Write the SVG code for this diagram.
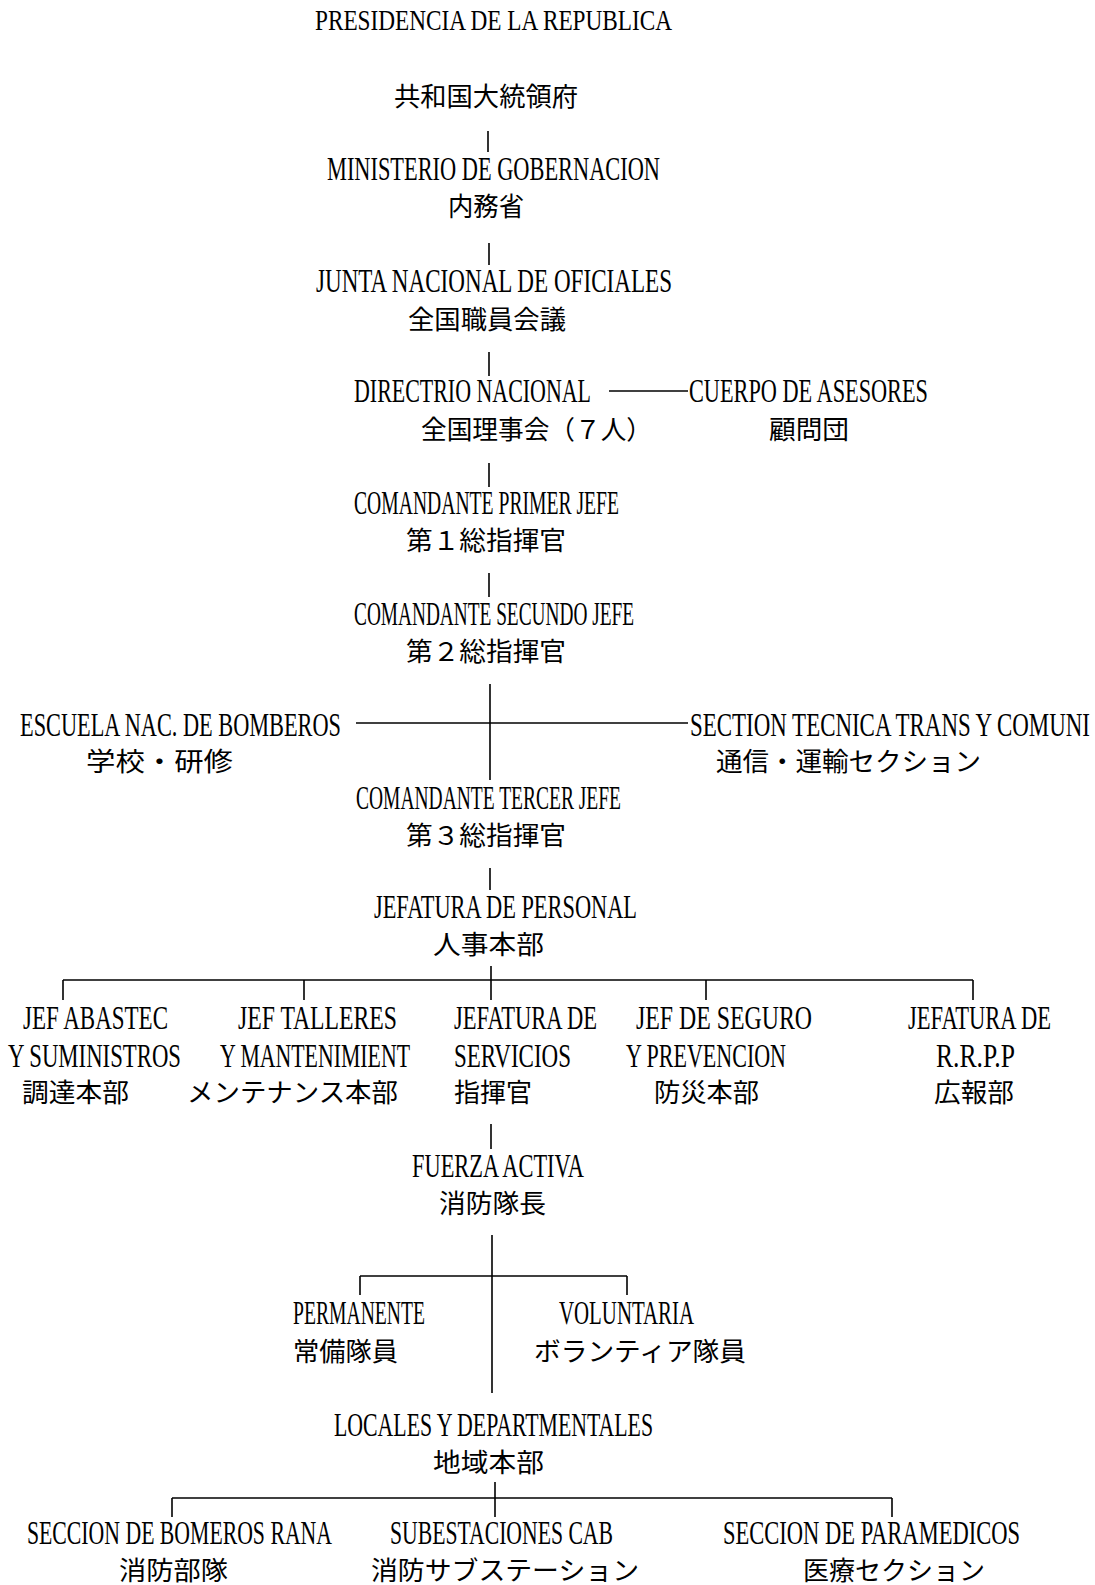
<svg xmlns="http://www.w3.org/2000/svg" width="1095" height="1585" viewBox="0 0 1095 1585">
<style>
.l{font-family:"Liberation Serif","DejaVu Serif",serif;font-size:21px;fill:#000}
.j{font-family:"Noto Sans CJK JP","Noto Sans CJK SC",sans-serif;font-size:26px;fill:#000}
.c line{stroke:#000;stroke-width:1.6;fill:none}
</style>
<rect width="1095" height="1585" fill="#fff"/>
<g class="c" id="connectors">
<line x1="488" y1="131" x2="488" y2="152"/>
<line x1="489" y1="243" x2="489" y2="265"/>
<line x1="489" y1="352" x2="489" y2="376"/>
<line x1="609" y1="391" x2="688" y2="391"/>
<line x1="489" y1="463" x2="489" y2="487"/>
<line x1="489" y1="573" x2="489" y2="597"/>
<line x1="490" y1="684" x2="490" y2="780"/>
<line x1="356" y1="723" x2="688" y2="723"/>
<line x1="490" y1="868" x2="490" y2="890"/>
<line x1="491" y1="966" x2="491" y2="980"/>
<line x1="63" y1="980" x2="973" y2="980"/>
<line x1="63" y1="980" x2="63" y2="1000"/>
<line x1="304" y1="980" x2="304" y2="1000"/>
<line x1="491" y1="980" x2="491" y2="1000"/>
<line x1="706" y1="980" x2="706" y2="1000"/>
<line x1="973" y1="980" x2="973" y2="1000"/>
<line x1="491" y1="1124" x2="491" y2="1149"/>
<line x1="492" y1="1235" x2="492" y2="1393"/>
<line x1="360" y1="1276" x2="627" y2="1276"/>
<line x1="360" y1="1276" x2="360" y2="1295"/>
<line x1="627" y1="1276" x2="627" y2="1295"/>
<line x1="495" y1="1482" x2="495" y2="1517"/>
<line x1="172" y1="1498" x2="892" y2="1498"/>
<line x1="172" y1="1498" x2="172" y2="1517"/>
<line x1="892" y1="1498" x2="892" y2="1517"/>
</g>
<g id="presidencia">
<text class="l" transform="translate(315,30) scale(1,1.42)" textLength="357" lengthAdjust="spacingAndGlyphs">PRESIDENCIA DE LA REPUBLICA</text>
<text class="j" x="394" y="106" textLength="184" lengthAdjust="spacingAndGlyphs">共和国大統領府</text>
</g>
<g id="ministerio">
<text class="l" transform="translate(327,180) scale(1,1.65)" textLength="333" lengthAdjust="spacingAndGlyphs">MINISTERIO DE GOBERNACION</text>
<text class="j" x="448" y="216" textLength="76" lengthAdjust="spacingAndGlyphs">内務省</text>
</g>
<g id="junta">
<text class="l" transform="translate(316,292) scale(1,1.65)" textLength="356" lengthAdjust="spacingAndGlyphs">JUNTA NACIONAL DE OFICIALES</text>
<text class="j" x="408" y="329" textLength="158" lengthAdjust="spacingAndGlyphs">全国職員会議</text>
</g>
<g id="directrio">
<text class="l" transform="translate(354,402) scale(1,1.65)" textLength="237" lengthAdjust="spacingAndGlyphs">DIRECTRIO NACIONAL</text>
<text class="j" x="421" y="439" textLength="231" lengthAdjust="spacingAndGlyphs">全国理事会（７人）</text>
</g>
<g id="cuerpo">
<text class="l" transform="translate(689,402) scale(1,1.65)" textLength="239" lengthAdjust="spacingAndGlyphs">CUERPO DE ASESORES</text>
<text class="j" x="769" y="439" textLength="80" lengthAdjust="spacingAndGlyphs">顧問団</text>
</g>
<g id="primer">
<text class="l" transform="translate(354,514) scale(1,1.65)" textLength="265" lengthAdjust="spacingAndGlyphs">COMANDANTE PRIMER JEFE</text>
<text class="j" x="406" y="550" textLength="160" lengthAdjust="spacingAndGlyphs">第１総指揮官</text>
</g>
<g id="secundo">
<text class="l" transform="translate(354,625) scale(1,1.65)" textLength="280" lengthAdjust="spacingAndGlyphs">COMANDANTE SECUNDO JEFE</text>
<text class="j" x="406" y="661" textLength="160" lengthAdjust="spacingAndGlyphs">第２総指揮官</text>
</g>
<g id="escuela">
<text class="l" transform="translate(20,736) scale(1,1.65)" textLength="321" lengthAdjust="spacingAndGlyphs">ESCUELA NAC. DE BOMBEROS</text>
<text class="j" x="86" y="771" textLength="147" lengthAdjust="spacingAndGlyphs">学校・研修</text>
</g>
<g id="section">
<text class="l" transform="translate(690,736) scale(1,1.65)" textLength="400" lengthAdjust="spacingAndGlyphs">SECTION TECNICA TRANS Y COMUNI</text>
<text class="j" x="716" y="771" textLength="265" lengthAdjust="spacingAndGlyphs">通信・運輸セクション</text>
</g>
<g id="tercer">
<text class="l" transform="translate(356,809) scale(1,1.65)" textLength="265" lengthAdjust="spacingAndGlyphs">COMANDANTE TERCER JEFE</text>
<text class="j" x="406" y="845" textLength="160" lengthAdjust="spacingAndGlyphs">第３総指揮官</text>
</g>
<g id="personal">
<text class="l" transform="translate(374,918) scale(1,1.65)" textLength="263" lengthAdjust="spacingAndGlyphs">JEFATURA DE PERSONAL</text>
<text class="j" x="433" y="954" textLength="111" lengthAdjust="spacingAndGlyphs">人事本部</text>
</g>
<g id="abastec">
<text class="l" transform="translate(23,1029) scale(1,1.65)" textLength="145" lengthAdjust="spacingAndGlyphs">JEF ABASTEC</text>
<text class="l" transform="translate(8,1067) scale(1,1.65)" textLength="173" lengthAdjust="spacingAndGlyphs">Y SUMINISTROS</text>
<text class="j" x="22" y="1102" textLength="107" lengthAdjust="spacingAndGlyphs">調達本部</text>
</g>
<g id="talleres">
<text class="l" transform="translate(238,1029) scale(1,1.65)" textLength="159" lengthAdjust="spacingAndGlyphs">JEF TALLERES</text>
<text class="l" transform="translate(220,1067) scale(1,1.65)" textLength="190" lengthAdjust="spacingAndGlyphs">Y MANTENIMIENT</text>
<text class="j" x="187" y="1102" textLength="211" lengthAdjust="spacingAndGlyphs">メンテナンス本部</text>
</g>
<g id="servicios">
<text class="l" transform="translate(454,1029) scale(1,1.65)" textLength="143" lengthAdjust="spacingAndGlyphs">JEFATURA DE</text>
<text class="l" transform="translate(454,1067) scale(1,1.65)" textLength="117" lengthAdjust="spacingAndGlyphs">SERVICIOS</text>
<text class="j" x="454" y="1102" textLength="78" lengthAdjust="spacingAndGlyphs">指揮官</text>
</g>
<g id="seguro">
<text class="l" transform="translate(636,1029) scale(1,1.65)" textLength="176" lengthAdjust="spacingAndGlyphs">JEF DE SEGURO</text>
<text class="l" transform="translate(626,1067) scale(1,1.65)" textLength="160" lengthAdjust="spacingAndGlyphs">Y PREVENCION</text>
<text class="j" x="654" y="1102" textLength="105" lengthAdjust="spacingAndGlyphs">防災本部</text>
</g>
<g id="rrpp">
<text class="l" transform="translate(908,1029) scale(1,1.65)" textLength="143" lengthAdjust="spacingAndGlyphs">JEFATURA DE</text>
<text class="l" transform="translate(936,1067) scale(1,1.65)" textLength="79" lengthAdjust="spacingAndGlyphs">R.R.P.P</text>
<text class="j" x="934" y="1102" textLength="80" lengthAdjust="spacingAndGlyphs">広報部</text>
</g>
<g id="fuerza">
<text class="l" transform="translate(412,1177) scale(1,1.65)" textLength="172" lengthAdjust="spacingAndGlyphs">FUERZA ACTIVA</text>
<text class="j" x="439" y="1213" textLength="107" lengthAdjust="spacingAndGlyphs">消防隊長</text>
</g>
<g id="permanente">
<text class="l" transform="translate(293,1324) scale(1,1.65)" textLength="132" lengthAdjust="spacingAndGlyphs">PERMANENTE</text>
<text class="j" x="293" y="1361" textLength="105" lengthAdjust="spacingAndGlyphs">常備隊員</text>
</g>
<g id="voluntaria">
<text class="l" transform="translate(559,1324) scale(1,1.65)" textLength="135" lengthAdjust="spacingAndGlyphs">VOLUNTARIA</text>
<text class="j" x="534" y="1361" textLength="212" lengthAdjust="spacingAndGlyphs">ボランティア隊員</text>
</g>
<g id="locales">
<text class="l" transform="translate(334,1436) scale(1,1.65)" textLength="319" lengthAdjust="spacingAndGlyphs">LOCALES Y DEPARTMENTALES</text>
<text class="j" x="433" y="1472" textLength="111" lengthAdjust="spacingAndGlyphs">地域本部</text>
</g>
<g id="rana">
<text class="l" transform="translate(27,1544) scale(1,1.65)" textLength="305" lengthAdjust="spacingAndGlyphs">SECCION DE BOMEROS RANA</text>
<text class="j" x="119" y="1580" textLength="109" lengthAdjust="spacingAndGlyphs">消防部隊</text>
</g>
<g id="subestaciones">
<text class="l" transform="translate(390,1544) scale(1,1.65)" textLength="223" lengthAdjust="spacingAndGlyphs">SUBESTACIONES CAB</text>
<text class="j" x="371" y="1580" textLength="268" lengthAdjust="spacingAndGlyphs">消防サブステーション</text>
</g>
<g id="paramedicos">
<text class="l" transform="translate(723,1544) scale(1,1.65)" textLength="297" lengthAdjust="spacingAndGlyphs">SECCION DE PARAMEDICOS</text>
<text class="j" x="803" y="1580" textLength="182" lengthAdjust="spacingAndGlyphs">医療セクション</text>
</g>
</svg>
